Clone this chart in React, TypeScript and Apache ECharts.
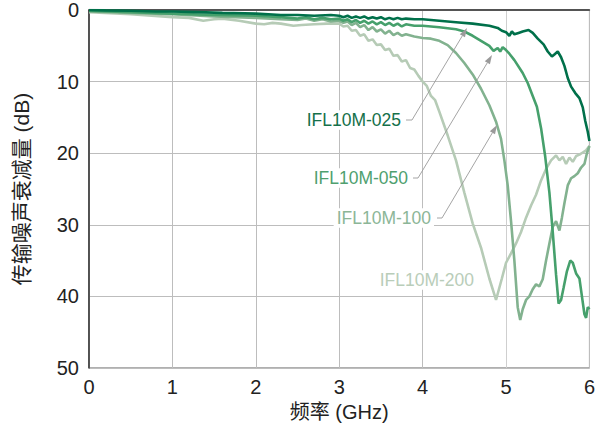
import React, { useEffect, useRef } from "react";
import * as echarts from "echarts";

const xTicks = [0, 1, 2, 3, 4, 5, 6];
const yTicks = [0, 10, 20, 30, 40, 50];

const seriesNames = ["IFL10M-200", "IFL10M-100", "IFL10M-050", "IFL10M-025"];
const seriesColors = ["#b6cbb6", "#82b28f", "#46a06c", "#00704a"];
const labelColors = ["#b9cdb9", "#8cb697", "#4f9f6f", "#15704a"];

const f025 = [0, 0.2, 0.5, 0.8, 1.0, 1.3, 1.6, 2.0, 2.3, 2.5, 2.7, 2.9, 3.0, 3.05, 3.1, 3.15, 3.2, 3.25, 3.3, 3.35, 3.4, 3.45, 3.5, 3.55, 3.6, 3.65, 3.7, 3.75, 3.8, 3.9, 4.0, 4.2, 4.4, 4.6, 4.8, 4.9, 4.95, 5.0, 5.04, 5.07, 5.1, 5.15, 5.2, 5.27, 5.32, 5.38, 5.45, 5.5, 5.55, 5.58, 5.62, 5.66, 5.7, 5.74, 5.78, 5.83, 5.88, 5.92, 5.95, 5.98, 6.0];
const d025 = [0, 0.05, 0.1, 0.2, 0.2, 0.3, 0.4, 0.5, 0.7, 0.7, 0.8, 0.7, 0.8, 1.0, 0.8, 1.1, 0.9, 1.1, 0.9, 1.2, 1.0, 1.2, 1.0, 1.3, 1.1, 1.3, 1.1, 1.3, 1.2, 1.3, 1.3, 1.5, 1.7, 1.9, 2.2, 2.5, 2.9, 3.1, 3.6, 3.0, 3.4, 3.2, 3.0, 2.8, 3.2, 4.0, 4.8, 5.8, 6.5, 6.2, 5.8, 6.6, 7.8, 9.5, 10.7, 11.6, 12.3, 13.6, 15.5, 17.0, 18.3];

const f050 = [0, 0.5, 1.0, 1.5, 2.0, 2.3, 2.5, 2.6, 2.7, 2.8, 2.9, 3.0, 3.05, 3.1, 3.15, 3.2, 3.25, 3.3, 3.35, 3.4, 3.45, 3.5, 3.55, 3.6, 3.65, 3.7, 3.75, 3.8, 3.9, 4.0, 4.2, 4.4, 4.5, 4.6, 4.7, 4.8, 4.85, 4.9, 4.93, 4.96, 5.0, 5.04, 5.1, 5.2, 5.26, 5.32, 5.37, 5.42, 5.47, 5.52, 5.56, 5.6, 5.63, 5.66, 5.69, 5.73, 5.77, 5.8, 5.84, 5.88, 5.91, 5.94, 5.96, 5.98, 6.0];
const d050 = [0.1, 0.3, 0.5, 0.7, 0.8, 1.0, 1.2, 1.0, 1.3, 1.1, 1.3, 1.2, 1.5, 1.3, 1.7, 1.4, 1.8, 1.5, 1.9, 1.6, 2.0, 1.7, 2.1, 1.8, 2.2, 1.9, 2.3, 2.0, 2.2, 2.2, 2.4, 2.7, 3.0, 3.6, 4.3, 5.0, 5.7, 5.3, 5.8, 5.2, 5.6, 6.1, 7.0, 8.8, 10.2, 12.0, 13.5, 16.5, 20.5, 25.5, 31.0, 37.0, 41.0, 40.5, 38.8, 36.5, 35.0, 35.3, 36.8, 37.5, 40.0, 42.5, 43.0, 41.5, 41.8];

const f100 = [0, 0.5, 1.0, 1.5, 2.0, 2.3, 2.5, 2.6, 2.7, 2.8, 2.9, 3.0, 3.05, 3.1, 3.15, 3.2, 3.25, 3.3, 3.35, 3.4, 3.45, 3.5, 3.55, 3.6, 3.65, 3.7, 3.75, 3.8, 3.9, 4.0, 4.1, 4.2, 4.3, 4.4, 4.5, 4.6, 4.7, 4.8, 4.88, 4.94, 4.98, 5.02, 5.06, 5.1, 5.14, 5.17, 5.2, 5.24, 5.28, 5.32, 5.36, 5.4, 5.44, 5.48, 5.52, 5.56, 5.6, 5.64, 5.67, 5.7, 5.74, 5.78, 5.82, 5.86, 5.9, 5.94, 5.97, 6.0];
const d100 = [0.2, 0.4, 0.6, 0.9, 1.1, 1.3, 1.4, 1.2, 1.5, 1.3, 1.6, 1.5, 1.8, 1.6, 2.1, 1.8, 2.4, 2.1, 2.8, 2.4, 3.0, 2.7, 3.3, 2.9, 3.5, 3.2, 3.6, 3.4, 3.7, 3.9, 4.0, 4.3, 4.9, 6.0, 7.4, 9.0, 11.0, 13.3, 15.6, 18.0, 21.0, 24.5, 29.5, 35.0, 41.5, 43.3, 41.8, 40.5, 40.0, 39.0, 38.3, 38.6, 37.6, 35.0, 32.6, 30.3, 29.5, 30.8, 29.0, 27.0, 24.5, 23.5, 23.2, 22.8, 22.0, 21.5, 20.0, 19.0];

const f200 = [0, 0.5, 1.0, 1.2, 1.37, 1.5, 1.6, 1.8, 2.0, 2.1, 2.2, 2.3, 2.45, 2.55, 2.7, 2.85, 3.0, 3.05, 3.1, 3.15, 3.2, 3.25, 3.3, 3.35, 3.4, 3.45, 3.5, 3.55, 3.6, 3.65, 3.7, 3.75, 3.8, 3.85, 3.9, 3.95, 4.0, 4.05, 4.1, 4.15, 4.2, 4.3, 4.4, 4.5, 4.6, 4.7, 4.8, 4.88, 4.95, 5.0, 5.06, 5.12, 5.18, 5.24, 5.3, 5.36, 5.42, 5.48, 5.54, 5.6, 5.64, 5.68, 5.72, 5.76, 5.8, 5.84, 5.88, 5.92, 5.96, 6.0];
const d200 = [0.3, 0.6, 1.0, 1.1, 1.5, 1.3, 1.2, 1.5, 1.9, 2.0, 1.8, 1.9, 2.2, 2.1, 2.0, 1.9, 1.9, 2.3, 2.2, 2.9, 2.8, 3.6, 3.4, 4.3, 4.1, 4.9, 4.8, 5.6, 5.4, 6.4, 6.3, 7.2, 7.0, 8.1, 8.3, 9.2, 10.0, 10.6, 12.0, 12.6, 14.2, 17.5, 21.0, 25.5, 29.8, 33.2, 37.5, 40.5, 37.5, 35.3, 34.0, 32.6, 31.0, 29.0, 27.3, 25.8, 23.8, 22.2, 21.0, 20.3, 21.0, 20.5, 21.5, 20.6, 21.2, 20.4, 20.2, 19.9, 19.6, 19.0];

const seriesFreqs = [f200, f100, f050, f025];
const seriesDb = [d200, d100, d050, d025];

const FONT = "'Liberation Sans', Arial, 'Noto Sans CJK SC', sans-serif";

function arrow(start: number[], bend: number[], tip: number[]) {
  const dx = tip[0] - bend[0];
  const dy = tip[1] - bend[1];
  const len = Math.sqrt(dx * dx + dy * dy);
  const ux = dx / len;
  const uy = dy / len;
  const L = 9;
  const W = 3;
  const bx = tip[0] - L * ux;
  const by = tip[1] - L * uy;
  const nx = -uy;
  const ny = ux;
  return [
    {
      type: "polyline",
      shape: { points: [start, bend, [bx, by]] },
      style: { stroke: "#9a9a9a", lineWidth: 0.9, fill: null },
      z: 100,
    },
    {
      type: "polygon",
      shape: {
        points: [
          tip,
          [bx + W * nx, by + W * ny],
          [bx - W * nx, by - W * ny],
        ],
      },
      style: { fill: "#9a9a9a" },
      z: 100,
    },
  ];
}

function label(text: string, x: number, y: number, color: string) {
  return {
    type: "text",
    x,
    y,
    z: 90,
    style: {
      text,
      fill: color,
      font: `17.5px ${FONT}`,
      align: "right",
      verticalAlign: "middle",
      backgroundColor: "#ffffff",
      padding: [1, 3, 1, 3],
    },
  };
}

export default function App() {
  const ref = useRef<HTMLDivElement>(null);
  useEffect(() => {
    if (!ref.current) return;
    const chart = echarts.init(ref.current, null, { renderer: "svg" });
    const series = seriesNames.map((name, i) => ({
      name,
      type: "line",
      data: seriesFreqs[i].map((f, j) => [f, seriesDb[i][j]]),
      showSymbol: false,
      symbol: "none",
      lineStyle: { color: seriesColors[i], width: 2.6 },
      z: 2 + i,
    }));
    chart.setOption({
      animation: false,
      backgroundColor: "#ffffff",
      textStyle: { fontFamily: FONT },
      grid: {
        left: 89,
        right: 8,
        top: 10,
        bottom: 62,
        show: true,
        borderColor: "#606060",
        borderWidth: 1,
      },
      xAxis: {
        type: "value",
        min: xTicks[0],
        max: xTicks[xTicks.length - 1],
        interval: 1,
        name: "频率 (GHz)",
        nameLocation: "middle",
        nameGap: 34,
        nameTextStyle: { fontSize: 20, color: "#222", fontFamily: FONT },
        axisLine: { show: true, lineStyle: { color: "#333", width: 1.5 } },
        axisTick: { show: false },
        axisLabel: { fontSize: 20, color: "#222", margin: 9, fontFamily: FONT },
        splitLine: {
          show: true,
          lineStyle: {
            color: ["#bdbdbd", "#bdbdbd", "#bdbdbd", "#bdbdbd", "#bdbdbd", "#cfcfcf", "#bdbdbd"],
            width: 1,
          },
        },
      },
      yAxis: {
        type: "value",
        inverse: true,
        min: yTicks[0],
        max: yTicks[yTicks.length - 1],
        interval: 10,
        name: "传输噪声衰减量 (dB)",
        nameLocation: "middle",
        nameGap: 57,
        nameRotate: 90,
        nameTextStyle: { fontSize: 21, color: "#222", fontFamily: FONT },
        axisLine: { show: true, lineStyle: { color: "#333", width: 1.5 } },
        axisTick: { show: false },
        axisLabel: { fontSize: 20, color: "#222", margin: 10, fontFamily: FONT },
        splitLine: { show: true, lineStyle: { color: "#bdbdbd", width: 1 } },
      },
      series,
      graphic: [
        label(seriesNames[3], 404, 120, labelColors[3]),
        label(seriesNames[2], 411, 178, labelColors[2]),
        label(seriesNames[1], 434, 218, labelColors[1]),
        label(seriesNames[0], 477, 280, labelColors[0]),
        ...arrow([406, 120], [412, 120], [467, 28]),
        ...arrow([413, 178], [418, 178], [492, 55]),
        ...arrow([437, 218], [442, 218], [497, 125]),
      ],
    });
    return () => chart.dispose();
  }, []);
  return (
    <div
      ref={ref}
      style={{ position: "fixed", left: 0, top: 0, width: 598, height: 430 }}
    />
  );
}
